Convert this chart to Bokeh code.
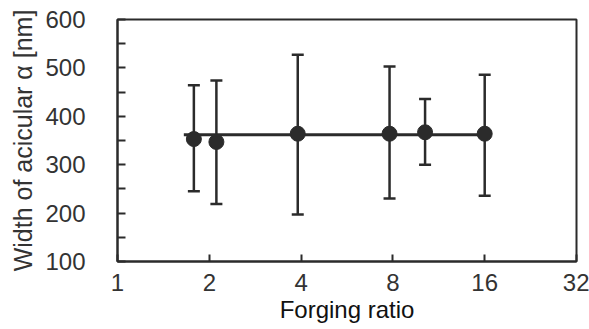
from bokeh.plotting import figure
from bokeh.models import FixedTicker, Whisker, TeeHead, ColumnDataSource, PrintfTickFormatter
from bokeh.embed import file_html
from bokeh.resources import INLINE

# data
forging_ratio = [1.78, 2.11, 3.9, 7.8, 10.2, 16.0]
width_mean = [353, 347, 364, 364, 367, 364]
width_upper = [464, 474, 527, 503, 436, 486]
width_lower = [245, 219, 197, 230, 300, 236]
fit_x = [1.65, 16.0]
fit_y = [362, 362]
x_ticks = [1, 2, 4, 8, 16, 32]
y_ticks = [100, 200, 300, 400, 500, 600]
y_minor = [150, 250, 350, 450, 550]

FONT = "Liberation Sans"
DARK = "#2b2b2b"
TXT = "#333333"

p = figure(width=589, height=329, x_axis_type="log", x_range=(1, 32), y_range=(100, 600),
           output_backend="svg", toolbar_location=None,
           min_border_left=117, min_border_right=13, min_border_top=19, min_border_bottom=68)
p.background_fill_color = "white"
p.border_fill_color = "white"
p.outline_line_color = DARK
p.outline_line_width = 2
p.grid.visible = False

src = ColumnDataSource(dict(x=forging_ratio, y=width_mean, up=width_upper, lo=width_lower))
w = Whisker(base="x", upper="up", lower="lo", source=src, dimension="height",
            line_color=DARK, line_width=2.5,
            upper_head=TeeHead(size=12, line_color=DARK, line_width=2.5),
            lower_head=TeeHead(size=12, line_color=DARK, line_width=2.5))
p.add_layout(w)
p.line(fit_x, fit_y, line_color=DARK, line_width=3)
p.scatter("x", "y", source=src, size=15, fill_color=DARK, line_color=DARK)

xa = p.xaxis[0]
xa.ticker = FixedTicker(ticks=x_ticks)
xa.formatter = PrintfTickFormatter(format="%d")
xa.major_tick_in = 7
xa.major_tick_out = 0
xa.minor_tick_in = 0
xa.minor_tick_out = 0
xa.axis_line_color = DARK
xa.axis_line_width = 2
xa.major_tick_line_color = DARK
xa.major_tick_line_width = 2
xa.major_label_text_font = FONT
xa.major_label_text_font_size = "24px"
xa.major_label_text_color = TXT
xa.major_label_standoff = 12
xa.axis_label = "Forging ratio"
xa.axis_label_text_font = FONT
xa.axis_label_text_font_size = "24px"
xa.axis_label_text_font_style = "normal"
xa.axis_label_text_color = "#111111"
xa.axis_label_standoff = 2

ya = p.yaxis[0]
ya.ticker = FixedTicker(ticks=y_ticks, minor_ticks=y_minor)
ya.major_tick_in = 8
ya.major_tick_out = 0
ya.minor_tick_in = 8
ya.minor_tick_out = 0
ya.axis_line_color = DARK
ya.axis_line_width = 2
ya.major_tick_line_color = DARK
ya.major_tick_line_width = 2
ya.minor_tick_line_color = DARK
ya.minor_tick_line_width = 2
ya.major_label_text_font = FONT
ya.major_label_text_font_size = "24px"
ya.major_label_text_color = TXT
ya.major_label_standoff = 32
ya.axis_label = "Width of acicular α [nm]"
ya.axis_label_text_font = FONT
ya.axis_label_text_font_size = "25px"
ya.axis_label_text_font_style = "normal"
ya.axis_label_text_color = TXT
ya.axis_label_standoff = 5

open("out.html", "w").write(file_html(p, INLINE))
